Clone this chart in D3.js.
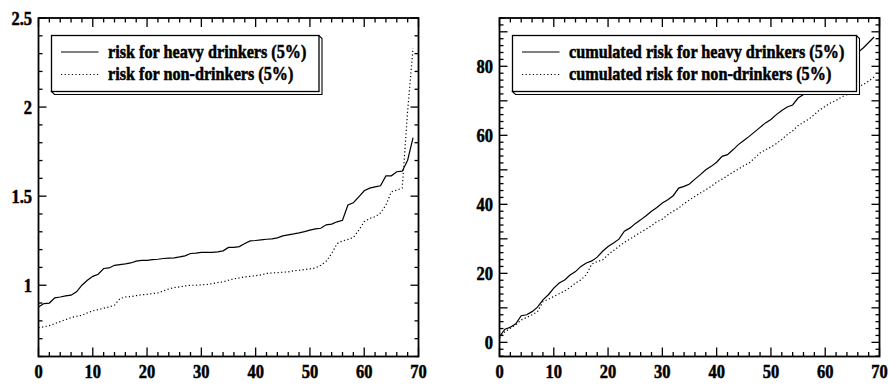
<!DOCTYPE html>
<html>
<head>
<meta charset="utf-8">
<script src="https://cdn.jsdelivr.net/npm/d3@7"></script>
<style>
  html, body { margin: 0; padding: 0; background: #fff; }
  svg { display: block; }
  text { font-family: "Liberation Serif", "Times New Roman", serif; font-weight: 700; fill: #000; stroke: #000; stroke-width: 0.45px; }
</style>
</head>
<body>
<svg id="chart" width="889" height="385"></svg>
<script>
// ---------------- DATA ----------------
const index = d3.range(70); // observation rank 0..69

const riskHeavy = [0.878,0.897,0.900,0.929,0.934,0.940,0.944,0.963,1.000,1.028,
  1.050,1.062,1.094,1.097,1.112,1.116,1.120,1.125,1.135,1.139,
  1.140,1.144,1.146,1.150,1.152,1.154,1.159,1.165,1.178,1.180,
  1.184,1.184,1.185,1.187,1.193,1.212,1.213,1.217,1.234,1.249,
  1.251,1.255,1.258,1.260,1.266,1.277,1.283,1.288,1.294,1.301,
  1.309,1.316,1.320,1.339,1.343,1.356,1.365,1.450,1.463,1.496,
  1.530,1.545,1.552,1.558,1.614,1.614,1.637,1.640,1.702,1.828];

const riskNon = [0.762,0.766,0.773,0.785,0.796,0.807,0.818,0.826,0.831,0.845,
  0.856,0.863,0.871,0.878,0.888,0.925,0.934,0.936,0.942,0.946,
  0.949,0.953,0.957,0.968,0.979,0.987,0.991,0.996,1.000,1.000,
  1.002,1.004,1.009,1.015,1.019,1.028,1.036,1.041,1.047,1.050,
  1.054,1.058,1.066,1.069,1.071,1.073,1.075,1.081,1.084,1.088,
  1.092,1.097,1.112,1.135,1.178,1.234,1.249,1.257,1.268,1.309,
  1.356,1.375,1.384,1.406,1.450,1.524,1.534,1.545,1.980,2.330];

const cumHeavy = [1.7,3.8,4.4,5.4,7.7,8.0,8.9,10.2,12.3,13.8,
  15.7,17.2,18.1,19.5,20.5,22.0,23.0,23.6,24.7,26.4,
  27.8,28.8,29.9,32.2,33.1,34.4,35.5,36.7,38.0,39.1,
  40.4,41.3,42.5,44.7,45.2,45.9,47.3,48.6,50.0,51.0,
  52.2,53.9,54.4,55.8,57.3,58.5,59.7,61.0,62.3,63.6,
  64.6,66.0,67.2,68.2,68.8,70.8,71.8,73.2,74.6,76.0,
  77.4,78.6,79.8,81.0,82.2,83.2,84.0,85.3,86.9,88.5];

const cumNon = [1.2,3.1,4.1,5.1,6.5,7.2,8.0,8.9,11.8,12.5,
  13.3,14.1,14.9,15.9,17.2,18.1,19.6,22.7,23.4,23.9,
  25.4,26.6,27.8,29.0,29.9,30.9,31.9,32.8,33.8,35.0,
  35.7,37.0,38.0,38.9,40.2,41.3,42.3,43.3,44.2,45.2,
  46.4,47.3,48.3,49.3,50.2,51.2,52.0,53.4,54.9,55.8,
  56.6,57.6,58.8,60.2,61.3,62.8,63.8,64.7,66.0,67.4,
  68.4,69.4,70.1,71.1,71.8,72.8,74.0,74.7,75.7,76.9];

const xTickLabels = ["0","10","20","30","40","50","60","70"];
const leftYLabels = ["1","1.5","2","2.5"];
const rightYLabels = ["0","20","40","60","80"];

const leftLegend = ["risk for heavy drinkers (5%)", "risk for non-drinkers (5%)"];
const rightLegend = ["cumulated risk for heavy drinkers (5%)", "cumulated risk for non-drinkers (5%)"];

// ---------------- DRAWING ----------------
const svg = d3.select("#chart");
const SY = 1.18; // vertical stretch of the original typeface

function stretchedText(g, x, y, str, size, anchor) {
  return g.append("text")
    .attr("transform", `translate(${x},${y}) scale(1,${SY})`)
    .attr("text-anchor", anchor)
    .attr("font-size", size)
    .text(str);
}

function panel(opts) {
  const g = svg.append("g");
  const x = d3.scaleLinear().domain([0, 70]).range([opts.left, opts.left + 380]);
  const y = d3.scaleLinear().domain(opts.yDomain).range([356.5, 18]);
  const [x0, x1] = x.range();
  const [y0, y1] = [y.range()[1], y.range()[0]];

  // ticks
  const tg = g.append("g").attr("stroke", "#000").attr("stroke-width", 1.3);
  const xMinor = d3.range(0, 70.001, 2);
  const xMajor = d3.range(0, 70.001, 10);
  xMinor.forEach(v => {
    const L = xMajor.includes(v) ? 9 : 4.5;
    tg.append("line").attr("x1", x(v)).attr("x2", x(v)).attr("y1", y1).attr("y2", y1 - L);
    tg.append("line").attr("x1", x(v)).attr("x2", x(v)).attr("y1", y0).attr("y2", y0 + L);
  });
  opts.yMinor.forEach(v => {
    const L = opts.yMajor.some(m => Math.abs(m - v) < 1e-6) ? 8 : 4;
    tg.append("line").attr("y1", y(v)).attr("y2", y(v)).attr("x1", x0).attr("x2", x0 + L);
    tg.append("line").attr("y1", y(v)).attr("y2", y(v)).attr("x1", x1).attr("x2", x1 - L);
  });

  // data lines
  const line = vals => d3.line().x((d, i) => x(index[i])).y(d => y(d))(vals);
  g.append("path").attr("d", line(opts.s1)).attr("fill", "none")
    .attr("stroke", "#000").attr("stroke-width", 1.2);
  g.append("path").attr("d", line(opts.s2)).attr("fill", "none")
    .attr("stroke", "#000").attr("stroke-width", 1.2).attr("stroke-dasharray", "1.2,2.4");

  // frame
  g.append("rect").attr("x", x0).attr("y", y0).attr("width", x1 - x0).attr("height", y1 - y0)
    .attr("fill", "none").attr("stroke", "#000").attr("stroke-width", 1.8);

  // tick labels
  xTickLabels.forEach(t => stretchedText(g, x(+t), 378, t, 16.5, "middle"));
  opts.yLabels.forEach(t => stretchedText(g, x0 - 6.5, y(+t) + 6.5, t, 16.5, "end"));

  // legend
  const b = opts.legendBox; // [bx0, by0, bx1, by1]
  const d = 3;
  g.append("polygon")
    .attr("points", [[b[0], b[3]], [b[0] + d, b[3] + d], [b[2] + d, b[3] + d], [b[2] + d, b[1] + d], [b[2], b[1]]].join(" "))
    .attr("fill", "#fff").attr("stroke", "#000").attr("stroke-width", 1.1);
  g.append("rect").attr("x", b[0]).attr("y", b[1]).attr("width", b[2] - b[0]).attr("height", b[3] - b[1])
    .attr("fill", "#fff").attr("stroke", "#000").attr("stroke-width", 1.3);
  const rows = [52, 74.5];
  opts.legend.forEach((txt, i) => {
    g.append("line").attr("x1", b[0] + 9.5).attr("x2", b[0] + 47).attr("y1", rows[i]).attr("y2", rows[i])
      .attr("stroke", "#000").attr("stroke-width", 1.2)
      .attr("stroke-dasharray", i === 1 ? "1.2,2.4" : null);
    stretchedText(g, b[0] + 56.5, rows[i] + 5.5, txt, 16.2, "start");
  });
}

panel({
  left: 38.5,
  yDomain: [0.6, 2.5],
  yMinor: d3.range(6, 25.001, 1).map(v => v / 10),
  yMajor: [1, 1.5, 2, 2.5],
  yLabels: leftYLabels,
  s1: riskHeavy, s2: riskNon,
  legend: leftLegend,
  legendBox: [51.5, 35.5, 319, 91.5]
});

panel({
  left: 499.5,
  yDomain: [-4.1, 94],
  yMinor: d3.range(-4, 94.001, 2),
  yMajor: d3.range(0, 90.001, 10),
  yLabels: rightYLabels,
  s1: cumHeavy, s2: cumNon,
  legend: rightLegend,
  legendBox: [512.5, 35.5, 856.5, 91.5]
});
</script>
</body>
</html>
